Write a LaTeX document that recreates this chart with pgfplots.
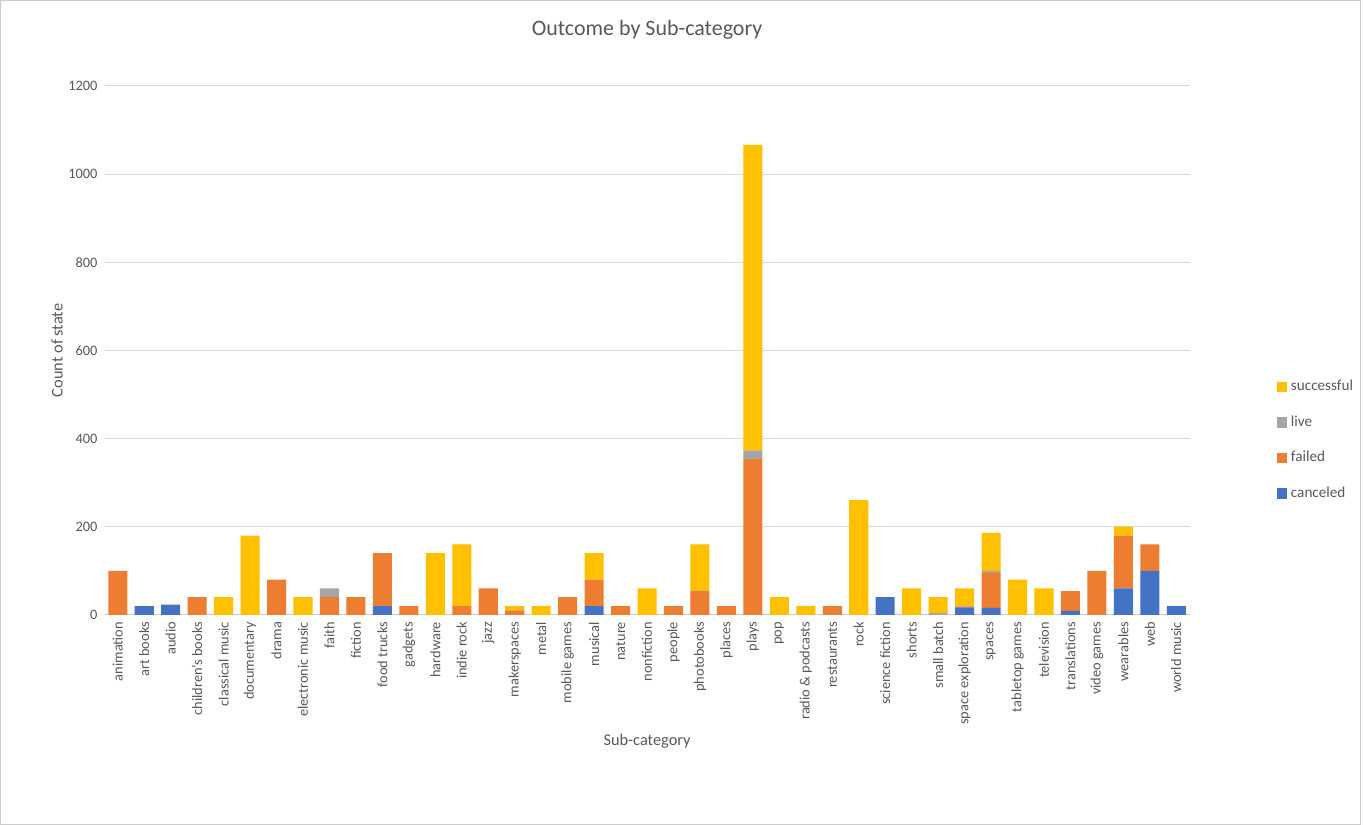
\documentclass[border=0pt]{standalone}
\usepackage{pgfplots}
\pgfplotsset{compat=1.18}
\usepackage{fontspec}
\setmainfont{Carlito}
\definecolor{cC}{HTML}{4472C4}
\definecolor{cF}{HTML}{ED7D31}
\definecolor{cL}{HTML}{A5A5A5}
\definecolor{cS}{HTML}{FFC000}
\definecolor{tx}{HTML}{595959}
\begin{document}
\begin{tikzpicture}[x=0.5pt,y=0.5pt]
\fill[white] (0,0) rectangle (1363,826);
\draw[gray!40] (0.5,0.5) rectangle (1362.5,825.5);
\begin{axis}[
  anchor=origin, at={(59pt,105pt)},
  width=543.5pt, height=265pt, scale only axis,
  ybar stacked, bar width=0.72,
  ymin=0, ymax=1200, ytick={0,200,...,1200},
  xmin=-0.5, xmax=40.5,
  xtick={0,...,40},
  xticklabels={animation,art books,audio,children's books,classical music,documentary,drama,electronic music,faith,fiction,food trucks,gadgets,hardware,indie rock,jazz,makerspaces,metal,mobile games,musical,nature,nonfiction,people,photobooks,places,plays,pop,radio \& podcasts,restaurants,rock,science fiction,shorts,small batch,space exploration,spaces,tabletop games,television,translations,video games,wearables,web,world music},
  xticklabel style={rotate=90, anchor=east, font=\fontsize{7.2}{8}\selectfont, text=tx},
  yticklabel style={font=\fontsize{7.2}{8}\selectfont, text=tx},
  /pgf/number format/assume math mode=true,
  /pgf/number format/1000 sep={},
  scaled y ticks=false,
  ymajorgrids, grid style={gray!30, line width=0.5pt},
  axis line style={draw=none}, axis x line*=bottom,
  x axis line style={draw=gray!40, line width=0.5pt},
  major tick length=0pt,
  title={Outcome by Sub-category}, title style={font=\fontsize{11}{13}\selectfont, text=tx, at={(0.5,1)}, anchor=south, yshift=14pt},
  xlabel={Sub-category}, ylabel={Count of state},
  label style={font=\fontsize{8.2}{10}\selectfont, text=tx},
  ylabel style={yshift=-4pt},
  xlabel style={yshift=2pt},
  legend style={at={(1.075,0.33)}, anchor=west, draw=none, fill=none, font=\fontsize{7.6}{9}\selectfont, text=tx, row sep=7pt},
  legend cell align=left, reverse legend,
  legend image code/.code={\fill[#1] (0cm,-0.09cm) rectangle (0.17cm,0.09cm);},
]
\addplot[fill=cC, draw=none] coordinates {(0,0)(1,20)(2,23)(3,0)(4,0)(5,0)(6,0)(7,0)(8,0)(9,0)(10,20)(11,0)(12,0)(13,0)(14,0)(15,0)(16,0)(17,0)(18,20)(19,0)(20,0)(21,0)(22,0)(23,0)(24,0)(25,0)(26,0)(27,0)(28,0)(29,40)(30,0)(31,0)(32,17)(33,16)(34,0)(35,0)(36,9)(37,0)(38,60)(39,100)(40,20)};
\addplot[fill=cF, draw=none] coordinates {(0,100)(1,0)(2,0)(3,40)(4,0)(5,0)(6,80)(7,0)(8,40)(9,40)(10,120)(11,20)(12,0)(13,20)(14,60)(15,10)(16,0)(17,40)(18,60)(19,20)(20,0)(21,20)(22,55)(23,20)(24,353)(25,0)(26,0)(27,20)(28,0)(29,0)(30,0)(31,0)(32,2)(33,79)(34,0)(35,0)(36,45)(37,100)(38,120)(39,60)(40,0)};
\addplot[fill=cL, draw=none] coordinates {(0,0)(1,0)(2,0)(3,0)(4,0)(5,0)(6,0)(7,0)(8,20)(9,0)(10,0)(11,0)(12,0)(13,0)(14,0)(15,0)(16,0)(17,0)(18,0)(19,0)(20,0)(21,0)(22,0)(23,0)(24,20)(25,0)(26,0)(27,0)(28,0)(29,0)(30,0)(31,4)(32,0)(33,5)(34,0)(35,0)(36,0)(37,0)(38,0)(39,0)(40,0)};
\addplot[fill=cS, draw=none] coordinates {(0,0)(1,0)(2,0)(3,0)(4,40)(5,180)(6,0)(7,40)(8,0)(9,0)(10,0)(11,0)(12,140)(13,140)(14,0)(15,10)(16,20)(17,0)(18,60)(19,0)(20,60)(21,0)(22,105)(23,0)(24,693)(25,40)(26,20)(27,0)(28,260)(29,0)(30,60)(31,36)(32,41)(33,86)(34,80)(35,60)(36,0)(37,0)(38,20)(39,0)(40,0)};
\legend{canceled,failed,live,successful}
\end{axis}
\end{tikzpicture}
\end{document}
